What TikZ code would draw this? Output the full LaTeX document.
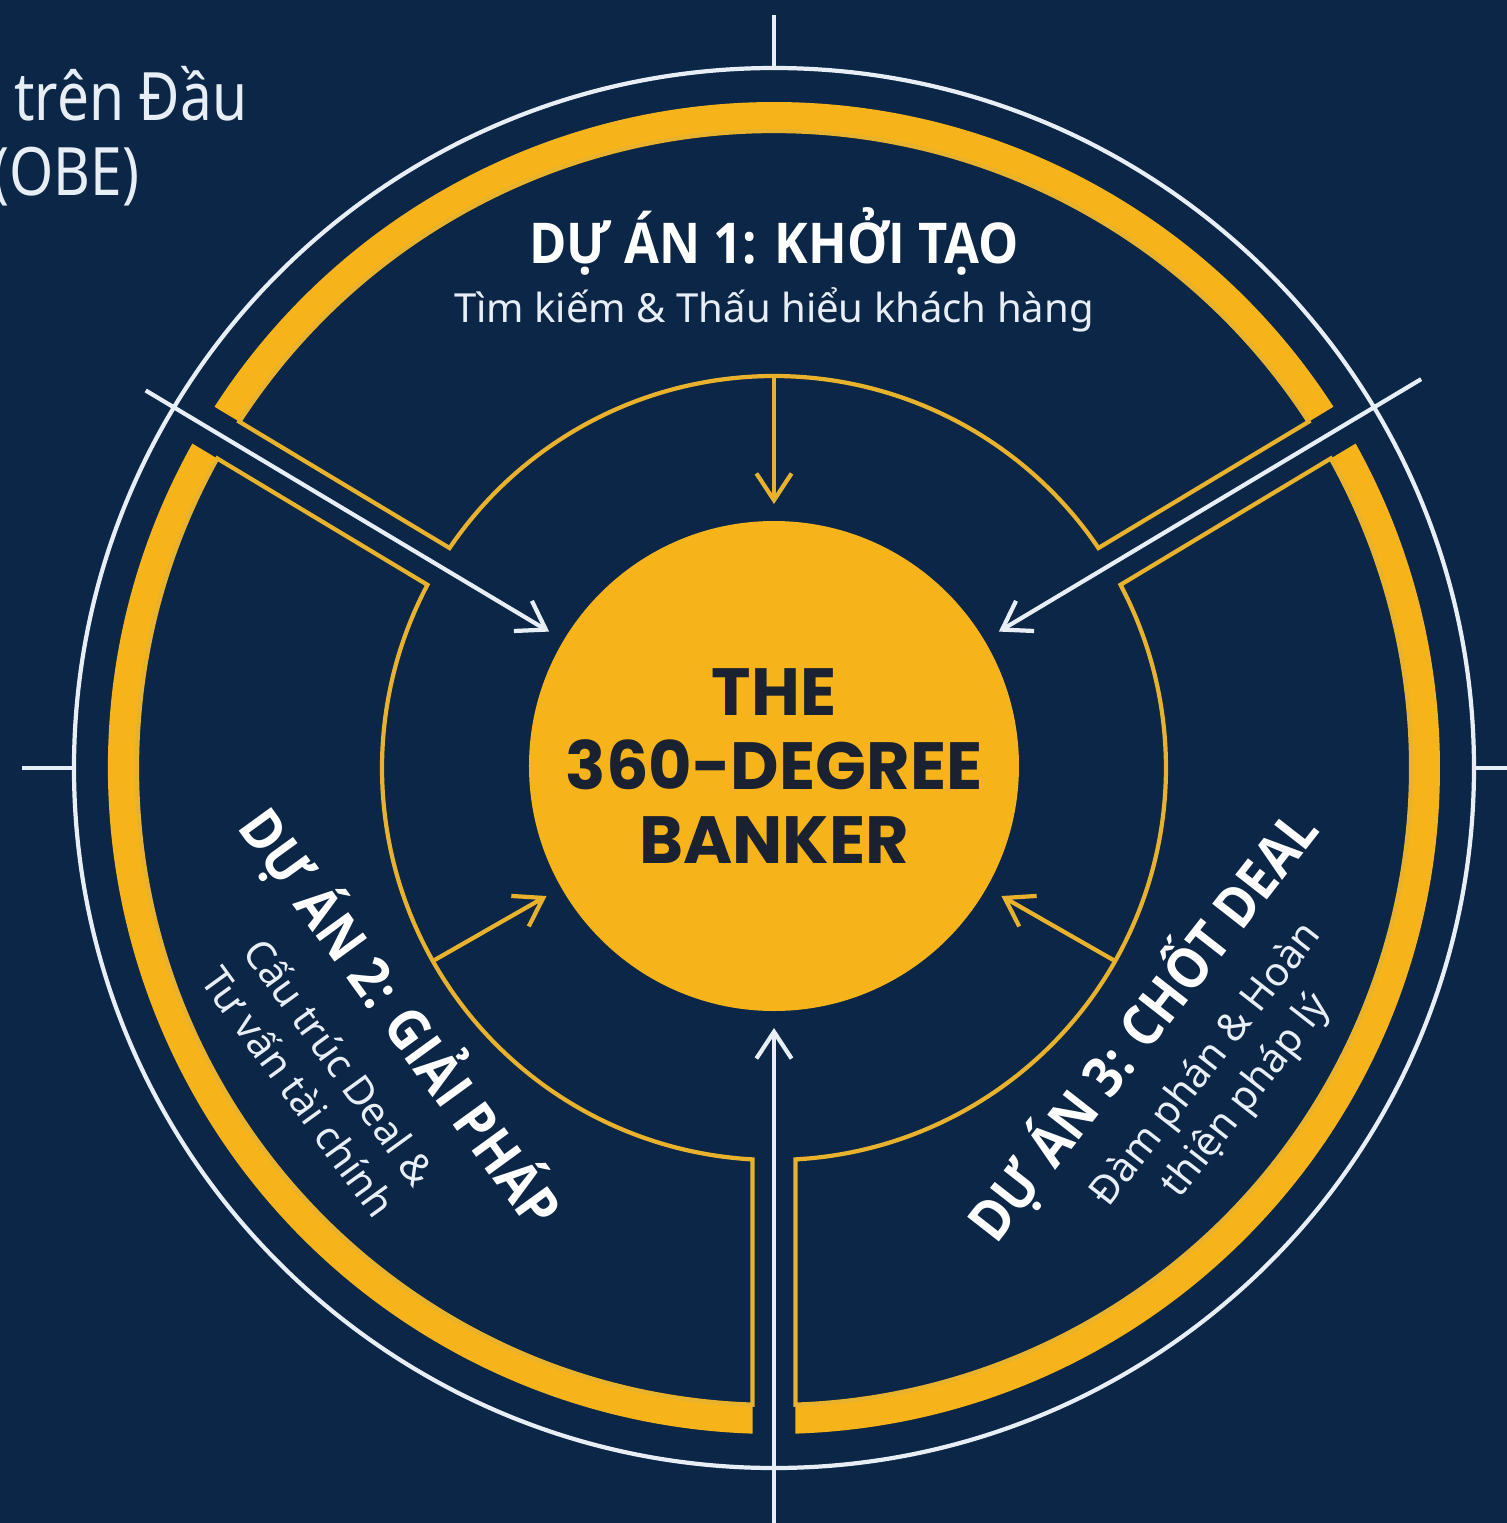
\documentclass[tikz,border=0pt]{standalone}
\usepackage{fontspec}
\setmainfont{Noto Sans}
\newfontfamily\poppins{Poppins}
\newfontfamily\damfont[FakeStretch=0.9]{Open Sans}
\newfontfamily\mongfont[FakeStretch=0.85]{Noto Sans}
\usepackage{tikz}
\usetikzlibrary{arrows.meta}
\definecolor{nennavy}{RGB}{11,38,70}
\definecolor{vangdam}{RGB}{246,180,26}
\definecolor{vangnhat}{RGB}{232,178,44}
\definecolor{chutoi}{RGB}{26,33,48}
\definecolor{trangxam}{RGB}{232,238,245}

\begin{document}
\begin{tikzpicture}[
	vien/.style={vangnhat, line width=1.2pt, line join=miter},
	tentrang/.style={trangxam, line width=1.2pt, -{Straight Barb[length=7.6pt,width=10pt]}},
	tenvang/.style={vangnhat, line width=1.2pt, -{Straight Barb[length=7.6pt,width=10pt]}},
	tieude/.style={text=white, font=\damfont\bfseries\fontsize{16}{19}\selectfont, inner sep=0},
	phude/.style={text=trangxam, font=\fontsize{11.4}{14.5}\selectfont, align=center, inner sep=0}]
			\fill[nennavy] (-7.74,-7.55) rectangle (7.33,7.68);
			\useasboundingbox (-7.74,-7.55) rectangle (7.33,7.68);
			
			% chu bi cat o goc trai
			\node[anchor=base east, text=trangxam, font=\mongfont\fontsize{19}{22}\selectfont, inner sep=0] (dau) at (-5.26,6.48) {n trên Đầu};
			\node[anchor=base east, text=trangxam, font=\mongfont\fontsize{19}{22}\selectfont, inner sep=0] (obe) at (-6.34,5.73) {(OBE)};
			
			% vong trang va vach
			\draw[trangxam, line width=1.2pt] (0,0) circle (7.0);
			\draw[trangxam, line width=1.2pt] (0,7.0) -- (0,7.53);
			\draw[trangxam, line width=1.2pt] (-7.0,0) -- (-7.52,0);
			\draw[trangxam, line width=1.2pt] (7.0,0) -- (7.4,0);
			
			% du an 1
			\fill[vangdam] (32.93:6.37) -- (32.85:6.66) arc[start angle=32.85,end angle=147.15,radius=6.66] -- (147.07:6.37) arc[start angle=147.07,end angle=32.93,radius=6.37] -- cycle;
			\draw[vien] (34.14:3.92) arc[start angle=34.14,end angle=145.86,radius=3.92] -- (147.07:6.37) arc[start angle=147.07,end angle=32.93,radius=6.37] -- cycle;
			% du an 2
			\fill[vangdam] (150.93:6.37) -- (150.85:6.66) arc[start angle=150.85,end angle=268.15,radius=6.66] -- (268.07:6.37) arc[start angle=268.07,end angle=150.93,radius=6.37] -- cycle;
			\draw[vien] (152.14:3.92) arc[start angle=152.14,end angle=266.86,radius=3.92] -- (268.07:6.37) arc[start angle=268.07,end angle=150.93,radius=6.37] -- cycle;
			% du an 3
			\fill[vangdam] (271.93:6.37) -- (271.85:6.66) arc[start angle=271.85,end angle=389.15,radius=6.66] -- (389.07:6.37) arc[start angle=389.07,end angle=271.93,radius=6.37] -- cycle;
			\draw[vien] (273.14:3.92) arc[start angle=273.14,end angle=387.86,radius=3.92] -- (389.07:6.37) arc[start angle=389.07,end angle=271.93,radius=6.37] -- cycle;
			
			% loi
			\node[circle, fill=vangdam, minimum size=4.9cm, inner sep=0, outer sep=0.17cm, text=chutoi, font=\poppins\bfseries\fontsize{19}{21}\selectfont, align=center] (loi) at (0,0.02) {THE\\360-DEGREE\\BANKER};
			
			\coordinate (khe1) at (149:7.33);
			\coordinate (khe2) at (31:7.55);
			\coordinate (khe3) at (270:7.8);
			\coordinate (giua1) at (90:3.9);
			\coordinate (giua2) at (209.5:3.9);
			\coordinate (giua3) at (330.5:3.9);
			\draw[tentrang] (khe1) -- (loi);
			\draw[tentrang] (khe2) -- (loi);
			\draw[tentrang] (khe3) -- (loi);
			\draw[tenvang] (giua1) -- (loi);
			\draw[tenvang] (giua2) -- (loi);
			\draw[tenvang] (giua3) -- (loi);
			
			% chu
			\node[tieude] (da1) at (0,5.27) {DỰ ÁN 1: KHỞI TẠO};
			\node[phude] (mt1) at (0,4.58) {Tìm kiếm \& Thấu hiểu khách hàng};
			\node[tieude, rotate=-54] (da2) at (-3.72,-2.49) {DỰ ÁN 2: GIẢI PHÁP};
			\node[phude, rotate=-54] (mt2) at (-4.54,-3.08) {Cấu trúc Deal \&\\Tư vấn tài chính};
			\node[tieude, rotate=52] (da3) at (3.68,-2.57) {DỰ ÁN 3: CHỐT DEAL};
			\node[phude, rotate=52] (mt3) at (4.53,-3.13) {Đàm phán \& Hoàn\\thiện pháp lý};
		\end{tikzpicture}
\end{document}
